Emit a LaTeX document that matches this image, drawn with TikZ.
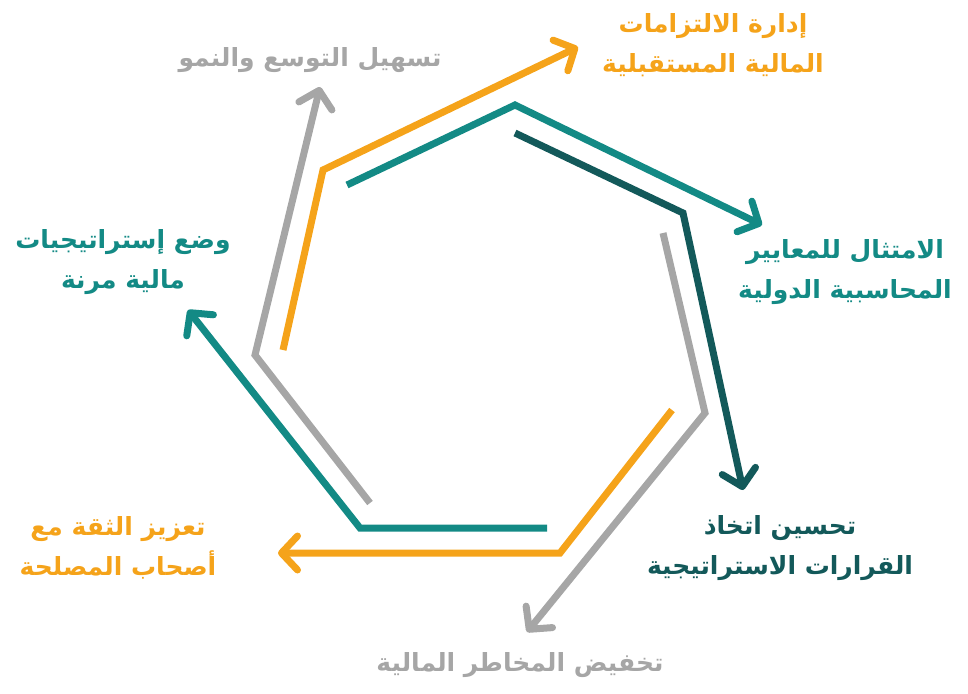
\documentclass[tikz,border=0pt]{standalone}
\usepackage{fontspec}
\setmainfont{DejaVu Sans}
\newfontfamily\arabicfont[Script=Arabic]{DejaVu Sans}
\TeXXeTstate=1
\usetikzlibrary{arrows.meta}
\definecolor{corange}{HTML}{F5A31A}
\definecolor{cteal}{HTML}{138A85}
\definecolor{cdark}{HTML}{13595A}
\definecolor{cgray}{HTML}{A6A6A6}
\tikzset{
  arr/.style={line width=7pt, line join=miter, -{Straight Barb[length=16pt,width=34pt,line cap=round,line join=round]}},
  lbl/.style={font=\arabicfont\bfseries\fontsize{25}{40}\selectfont, align=center, inner sep=0pt}
}
\begin{document}
\begin{tikzpicture}[x=1pt,y=-1pt]
\useasboundingbox (0,0) rectangle (968,693);
\coordinate (a1) at (283,350); \coordinate (b1) at (323,170); \coordinate (c1) at (578,47);
\coordinate (a2) at (347,185); \coordinate (b2) at (515,105); \coordinate (c2) at (762,225);
\coordinate (a3) at (515,133); \coordinate (b3) at (683,213); \coordinate (c3) at (743,490);
\coordinate (a4) at (663,233); \coordinate (b4) at (705,413); \coordinate (c4) at (527,632);
\coordinate (a5) at (672,410); \coordinate (b5) at (560,553); \coordinate (c5) at (278,553);
\coordinate (a6) at (547,528); \coordinate (b6) at (360,528); \coordinate (c6) at (188,310);
\coordinate (a7) at (370,503); \coordinate (b7) at (255,355); \coordinate (c7) at (320,87);
\draw[arr,corange] (a1) -- (b1) -- (c1);
\draw[arr,cteal] (a2) -- (b2) -- (c2);
\draw[arr,cdark] (a3) -- (b3) -- (c3);
\draw[arr,cgray] (a4) -- (b4) -- (c4);
\draw[arr,corange] (a5) -- (b5) -- (c5);
\draw[arr,cteal] (a6) -- (b6) -- (c6);
\draw[arr,cgray] (a7) -- (b7) -- (c7);
\node[lbl,text=corange] (t1) at (713,45) {\beginR إدارة الالتزامات\endR\\\beginR المالية المستقبلية\endR};
\node[lbl,text=cteal] (t2) at (845,272) {\beginR الامتثال للمعايير\endR\\\beginR المحاسبية الدولية\endR};
\node[lbl,text=cdark] (t3) at (780,548) {\beginR تحسين اتخاذ\endR\\\beginR القرارات الاستراتيجية\endR};
\node[lbl,text=cgray] (t4) at (520,665) {\beginR تخفيض المخاطر المالية\endR};
\node[lbl,text=corange] (t5) at (118,548) {\beginR تعزيز الثقة مع\endR\\\beginR أصحاب المصلحة\endR};
\node[lbl,text=cteal] (t6) at (123,262) {\beginR وضع إستراتيجيات\endR\\\beginR مالية مرنة\endR};
\node[lbl,text=cgray] (t7) at (310,60) {\beginR تسهيل التوسع والنمو\endR};
\end{tikzpicture}
\end{document}
